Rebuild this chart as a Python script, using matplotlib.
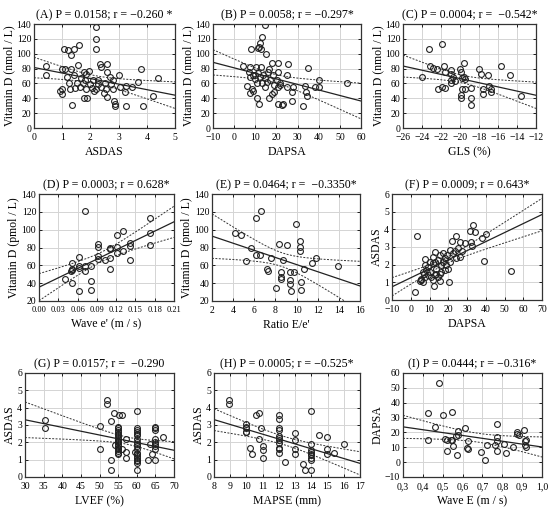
import numpy as np
import matplotlib
matplotlib.use("Agg")
import matplotlib.pyplot as plt
from matplotlib.ticker import FuncFormatter

plt.rcParams['font.family'] = ['Liberation Serif', 'DejaVu Serif']

# ---------- data ----------
# (A) ASDAS vs vitamin D
a_x = [2.19, 2.2, 2.2, 1.07, 1.22, 1.42, 1.32, 1.61, 0.41, 0.41, 1.01, 1.1, 1.3, 1.56, 2.33,
       2.6, 2.38, 1.78, 1.86, 1.95, 1.41, 1.18, 1.65, 1.8, 2.1, 2.27, 2.6, 2.68, 3.0, 3.8,
       4.4, 3.7, 3.48, 3.27, 3.04, 2.8, 2.56, 2.39, 2.21, 2.04, 1.86, 1.62, 1.45, 1.27, 0.98,
       0.92, 1.0, 1.33, 1.78, 1.87, 2.13, 2.47, 2.6, 2.82, 2.86, 2.89, 3.28, 3.86, 4.21, 3.24,
       2.74, 1.51, 1.74, 1.98, 1.25, 2.27, 2.5, 2.8]
a_y = [136, 120, 106, 106, 105, 106, 98, 112, 83, 71, 80, 80, 79, 85, 86,
       86, 82, 76, 73, 77, 71, 69, 67, 65, 64, 65, 76, 69, 71, 80,
       67, 62, 55, 56, 55, 53, 52, 55, 52, 54, 53, 55, 54, 53, 53,
       50, 46, 31, 41, 40, 50, 47, 42, 36, 30, 32, 30, 30, 43, 48,
       59, 61, 61, 59, 61, 59, 61, 64]

# (B) DAPSA vs vitamin D
b_x = [14.6, 13.3, 12.2, 11.8, 11.1, 8.1, 12.7, 15.1, 4.0, 17.8, 20.6, 25.6, 35.1, 7.5, 10.3,
       12.6, 16.6, 20.9, 25.2, 7.2, 9.1, 11.5, 13.8, 16.2, 18.5, 7.5, 9.9, 12.2, 14.6, 17.0,
       20.1, 21.7, 24.9, 28.0, 33.5, 38.3, 40.2, 40.3, 53.2, 34.0, 34.3, 27.2, 20.6, 6.2, 8.3,
       9.1, 7.5, 10.7, 11.9, 16.6, 17.8, 18.9, 20.9, 22.8, 23.3, 27.2, 32.4, 14.6, 15.5, 13.0,
       10.7, 19.0, 21.7, 9.9]
b_y = [139, 122, 115, 109, 108, 107, 107, 100, 84, 88, 88, 86, 81, 82, 82,
       82, 80, 76, 72, 75, 72, 74, 71, 75, 71, 68, 66, 69, 67, 65,
       64, 58, 55, 55, 56, 55, 55, 64, 60, 48, 43, 48, 55, 56, 53,
       50, 47, 41, 32, 41, 46, 48, 32, 31, 32, 36, 30, 55, 62, 60,
       60, 58, 60, 72]

# (C) GLS vs vitamin D
c_x = [-23.27, -21.9, -23.2, -22.8, -22.4, -24.0, -21.7, -21.6, -20.9, -20.9, -20.7, -20.9,
       -20.5, -19.6, -19.9, -20.0, -19.8, -19.5, -19.6, -22.3, -21.9, -21.6, -20.9, -19.8,
       -19.5, -19.9, -19.9, -18.8, -18.8, -18.8, -18.0, -17.8, -17.6, -17.6, -17.1, -16.9,
       -16.7, -16.7, -15.7, -14.7, -13.6]
c_y = [107, 113.5, 83, 81, 80, 68, 83, 75, 78, 72.5, 68, 64,
       63, 87, 76, 80, 67, 66, 68, 52, 55, 54.5, 60, 53,
       52, 45, 40, 54.5, 41, 31.5, 79, 72.5, 52, 46, 71, 56,
       53, 48.6, 84, 71, 43]

# (D) wave e' vs vitamin D
d_x = [0.0716, 0.0404, 0.051, 0.051, 0.051, 0.052, 0.062, 0.062, 0.062, 0.062, 0.072, 0.072,
       0.081, 0.081, 0.081, 0.091, 0.091, 0.091, 0.091, 0.102, 0.111, 0.111, 0.111, 0.111,
       0.121, 0.121, 0.121, 0.131, 0.131, 0.142, 0.142, 0.142, 0.172, 0.172, 0.172, 0.05]
d_y = [121.3, 44.4, 40.6, 55.6, 54.5, 63, 69, 59, 57, 31, 59, 54,
       59, 42, 32, 84, 81, 71, 67, 66, 79, 78, 68, 55.6,
       94, 81, 74, 98, 76, 85, 82, 66, 113, 96, 83, 54]

# (E) ratio E/e' vs vitamin D
e_x = [6.6, 6.13, 4.2, 4.7, 5.66, 6.13, 6.57, 5.2, 7.6, 8.3, 9.07, 8.7, 7.2, 7.3, 8.5, 8.5,
       8.5, 8.1, 9.4, 9.76, 9.4, 9.4, 9.45, 9.9, 10.35, 10.35, 10.35, 10.4, 10.4, 10.7, 11.46,
       11.8, 13.9]
e_y = [121, 113, 96, 94, 80, 72, 72, 65, 68, 84, 83, 66, 56, 54, 52, 47,
       45, 35, 53, 53, 43, 39, 31, 106, 87, 81, 76, 41.5, 32, 56, 63,
       68, 59]

# (F) DAPSA vs ASDAS
f_x = [3.5, 2.1, 12.2, 20.4, 15.8, 39.2, 53.5, 33.2, 34.4, 31.4, 40.0, 37.8, 32.3, 32.7, 24.3,
       26.1, 22.0, 25.2, 27.3, 26.4, 24.3, 20.8, 19.5, 22.5, 17.2, 15.4, 12.8, 11.9, 14.5, 17.2,
       19.0, 19.9, 18.1, 16.3, 13.6, 11.9, 10.1, 9.2, 7.4, 8.3, 6.5, 10.1, 7.4, 5.6, 4.8,
       6.5, 5.3, 9.2, 11.0, 12.8, 11.9, 14.5, 15.4, 13.6, 7.8, 7.1, 12.8, 16.3, 18.1, 21.1,
       23.4, 28.8]
f_y = [3.6, 0.43, 0.79, 1.0, 1.1, 2.2, 1.62, 4.24, 3.85, 3.9, 3.75, 3.5, 3.27, 3.04, 3.6,
       3.27, 3.33, 2.94, 2.75, 2.46, 2.36, 2.84, 2.55, 2.65, 2.65, 2.55, 2.69, 2.46, 2.26, 2.17,
       1.97, 1.78, 1.68, 1.59, 1.78, 2.07, 2.17, 1.88, 1.97, 1.68, 1.59, 1.59, 1.3, 1.14, 1.06,
       1.0, 1.2, 1.39, 1.33, 1.39, 1.14, 1.3, 1.49, 1.49, 2.3, 1.49, 2.17, 1.97, 2.36, 2.17,
       2.75, 3.23]

# (G) LVEF vs ASDAS
g_x = [35.4, 35.4, 50.1, 50.1, 52.1, 52.1, 53, 53, 53, 54, 55.2, 56.1] + [55] * 17 + \
      [54.2, 56, 57.1, 57.1, 57.1, 59.5, 60] + [60] * 18 + [62.9, 63.5, 64] + [65] * 9 + [67]
g_y = [3.29, 2.8, 2.96, 1.64, 4.45, 4.2, 3.23, 0.97, 0.39, 3.68, 3.58, 3.58,
       2.9, 2.8, 2.7, 2.6, 2.5, 2.4, 2.3, 2.2, 2.1, 2.0, 1.9, 1.8, 1.7, 1.6, 1.5, 1.4, 1.3,
       1.84, 1.64, 2.22, 1.45, 1.1, 1.45, 3.81,
       2.8, 2.7, 2.6, 2.5, 2.4, 2.2, 2.0, 1.9, 1.8, 1.6, 1.4, 1.3, 1.2, 1.1, 1.0, 0.9, 0.8, 0.4,
       0.97, 1.93, 1.3,
       2.9, 2.8, 2.7, 2.2, 2.0, 1.9, 1.8, 1.6, 1.0, 2.28]

# (H) MAPSE vs ASDAS
h_x = [8.92, 8.92] + [10] * 5 + [10.2, 10.36, 10.6, 10.75, 10.9, 10.75, 11, 11, 11] + \
      [12] * 11 + [12.4, 12.97, 12.97, 12.97, 12.97, 13.48, 13.6] + [14] * 9 + \
      [14.5, 14.98, 14.98, 14.98, 15.4, 16]
h_y = [4.45, 4.2, 3.04, 2.9, 2.8, 2.6, 2.57, 1.68, 1.3, 3.58, 3.71, 2.8, 2.19, 1.8, 1.55, 1.1,
       3.6, 3.35, 2.85, 2.7, 2.35, 2.25, 2.15, 1.95, 1.7, 1.6, 1.4,
       0.87, 2.51, 2.13, 1.64, 1.35, 0.77, 0.39,
       3.81, 1.93, 1.55, 1.45, 1.35, 1.26, 1.1, 1.0, 0.39,
       2.42, 2.28, 1.64, 1.3, 1.41, 1.9]

# (I) wave E vs DAPSA
i_x = [0.482, 0.426, 0.426, 0.461, 0.502, 0.545, 0.512, 0.524, 0.524, 0.541, 0.546, 0.55,
       0.575, 0.567, 0.575, 0.572, 0.614, 0.626, 0.621, 0.626, 0.692, 0.711, 0.723, 0.771,
       0.771, 0.771, 0.771, 0.762, 0.81, 0.818, 0.856, 0.873, 0.876, 0.886, 0.911, 0.915,
       0.915, 0.92, 0.92]
i_y = [53.3, 32.9, 14.7, 23.7, 31.7, 34, 15.6, 7.3, 15.1, 15.1, 14.7, 10.6,
       20.7, 17.4, 18, 5, 23, 14, 9.5, 9, 6.8, 1.7, 11.8, 25.7,
       16.7, 14, 7.3, 11.3, 12.4, 6.2, 10.2, 20.3, 19.2, 18.5, 21.4, 14.5,
       11.8, 15.1, 10.2]

titles = ["(A) P = 0.0158; r = \u22120.260 *", "(B) P = 0.0058; r = \u22120.297*",
          "(C) P = 0.0004; r =  \u22120.542*", "(D) P = 0.0003; r = 0.628*",
          "(E) P = 0.0464; r =  \u22120.3350*", "(F) P = 0.0009; r = 0.643*",
          "(G) P = 0.0157; r =  \u22120.290", "(H) P = 0.0005; r = \u22120.525*",
          "(I) P = 0.0444; r = \u22120.316*"]
xlabels = ["ASDAS", "DAPSA", "GLS (%)", "Wave e' (m / s)", "Ratio E/e'", "DAPSA",
           "LVEF (%)", "MAPSE (mm)", "Wave E (m / s)"]
ylabels = ["Vitamin D (nmol / L)"] * 3 + ["Vitamin D (pmol / L)"] * 2 + \
          ["ASDAS"] * 3 + ["DAPSA"]

xticks = [np.arange(0, 5.1, 1), np.arange(-10, 61, 10), np.arange(-26, -11, 2),
          np.arange(0, 0.211, 0.03), np.arange(2, 17, 2), np.arange(-10, 71, 10),
          np.arange(30, 71, 5), np.arange(8, 18, 1), np.arange(0.3, 1.01, 0.1)]
yticks = [np.arange(0, 141, 20)] * 3 + [np.arange(20, 141, 20)] * 2 + \
         [np.arange(0, 7, 1)] * 3 + [np.arange(-10, 61, 10)]

panels = [(a_x, a_y), (b_x, b_y), (c_x, c_y), (d_x, d_y), (e_x, e_y),
          (f_x, f_y), (g_x, g_y), (h_x, h_y), (i_x, i_y)]

# axes boxes in pixels: left, right, top, bottom
boxes = [(34, 175, 24, 128), (213, 361, 24, 128), (403, 536, 24, 128),
         (39, 174, 194, 301), (212, 360, 194, 301), (392, 542, 194, 300),
         (25, 174, 373, 477), (214, 360, 373, 477), (403, 542, 373, 477)]

W, H = 550, 513
fig = plt.figure(figsize=(W / 100, H / 100), dpi=100)


def fit_band(x, y, xs):
    x = np.asarray(x, float)
    y = np.asarray(y, float)
    n = len(x)
    b1, b0 = np.polyfit(x, y, 1)
    res = y - (b0 + b1 * x)
    s = np.sqrt(np.sum(res ** 2) / (n - 2))
    sxx = np.sum((x - x.mean()) ** 2)
    t = 1.96 + 2.4 / (n - 2)
    fit = b0 + b1 * xs
    se = s * np.sqrt(1.0 / n + (xs - x.mean()) ** 2 / sxx)
    return fit, fit - t * se, fit + t * se


def minus_fmt(v, p):
    return f"{v:g}".replace('-', '\u2212')


for k, (px, py) in enumerate(panels):
    l, r, t_, b = boxes[k]
    ax = fig.add_axes([l / W, 1 - b / H, (r - l) / W, (b - t_) / H])
    xt, yt = xticks[k], yticks[k]
    ax.set_xlim(xt[0], xt[-1])
    ax.set_ylim(yt[0], yt[-1])
    ax.set_xticks(xt)
    ax.set_yticks(yt)
    ax.grid(True, color='#d4d4d4', lw=0.7)
    ax.set_axisbelow(True)

    xs = np.linspace(xt[0], xt[-1], 200)
    fit, lo, hi = fit_band(px, py, xs)
    ax.plot(xs, fit, color='#222222', lw=0.9)
    ax.plot(xs, lo, color='#333333', lw=0.7, ls=(0, (2, 1.5)))
    ax.plot(xs, hi, color='#333333', lw=0.7, ls=(0, (2, 1.5)))
    ax.plot(px, py, 'o', ms=4.2, mfc='none', mec='#222222', mew=0.8, ls='none')

    ax.set_title(titles[k], fontsize=8.6, pad=4)
    ax.set_xlabel(xlabels[k], fontsize=8.5, labelpad=3)
    ax.set_ylabel(ylabels[k], fontsize=8.5, labelpad=1)
    ax.tick_params(labelsize=7, direction='in', length=2, width=0.6, pad=2,
                   top=True, right=True)
    ax.tick_params(axis='x', pad=3.5)
    for sp in ax.spines.values():
        sp.set_linewidth(0.9)
        sp.set_color('#333333')
    if k == 3:
        ax.xaxis.set_major_formatter(FuncFormatter(lambda v, p: f"{v:.2f}"))
        ax.tick_params(axis='x', labelsize=6)
    elif k == 8:
        ax.xaxis.set_major_formatter(FuncFormatter(lambda v, p: f"{v:.1f}".replace('.', ',')))
    else:
        ax.xaxis.set_major_formatter(FuncFormatter(minus_fmt))
    ax.yaxis.set_major_formatter(FuncFormatter(minus_fmt))

fig.savefig("out.png", dpi=100)
